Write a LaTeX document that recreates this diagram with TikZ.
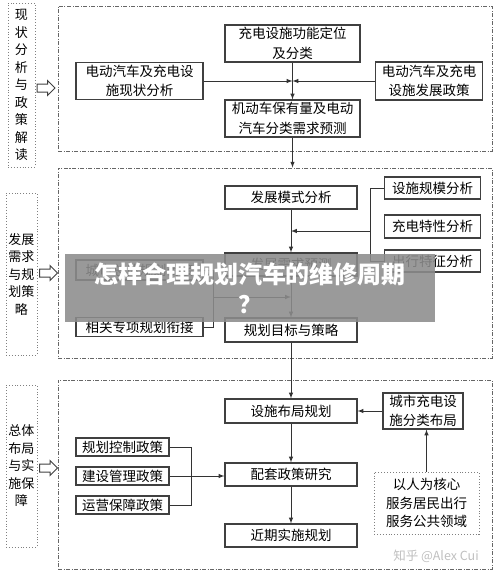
\documentclass[tikz,border=0pt]{standalone}
\usepackage{fontspec}
\setmainfont{Noto Sans CJK SC}
\usetikzlibrary{shapes.arrows}

\begin{document}
\begin{tikzpicture}[x=1pt,y=-1pt,
        box/.style={draw=black!75,line width=1.1pt,fill=white,align=center,inner sep=0pt,font=\fontsize{13.5}{19.5}\selectfont},
        sect/.style={draw=black!60,line width=0.8pt,dash pattern=on 4pt off 1.5pt on 1pt off 1.5pt,minimum width=434pt,inner sep=0pt},
        label/.style={draw=black!50,line width=0.9pt,dotted,align=center,inner sep=0pt,font=\fontsize{13}{17.5}\selectfont},
        hollow/.style={draw=black!75,line width=1pt,single arrow,single arrow head extend=3.5pt,inner xsep=0pt,inner ysep=3.5pt,minimum height=18pt},
        conn/.style={draw=black!80,line width=1pt}]
        \useasboundingbox (0,0) rectangle (500,576);

        \node[sect,minimum height=145pt] (sec1) at (275,78.5) {};
        \node[sect,minimum height=190pt] (sec2) at (275,263) {};
        \node[sect,minimum height=189pt] (sec3) at (275,474.5) {};

        \node[label,minimum width=27pt,minimum height=164pt] (lab1) at (21.5,85) {现\\状\\分\\析\\与\\政\\策\\解\\读};
        \node[label,minimum width=31pt,minimum height=162pt] (lab2) at (21.5,274) {发展\\需求\\与规\\划策\\略};
        \node[label,minimum width=31pt,minimum height=162pt] (lab3) at (21.5,466) {总体\\布局\\与实\\施保\\障};
        \node[hollow] (arr1) at (44,88) {};
        \node[hollow] (arr2) at (46.5,273) {};
        \node[hollow] (arr3) at (46.5,468) {};

        \node[box,minimum width=135pt,minimum height=37pt] (func) at (292.5,43.5) {充电设施功能定位\\及分类};
        \node[box,minimum width=127pt,minimum height=37pt] (now) at (139.5,81) {电动汽车及充电设\\施现状分析};
        \node[box,minimum width=107pt,minimum height=38pt] (policy) at (429,81) {电动汽车及充电\\设施发展政策};
        \node[box,minimum width=135pt,minimum height=37pt] (need) at (292.5,118.5) {机动车保有量及电动\\汽车分类需求预测};
        \draw[conn,-latex] (func) -- (need);
        \draw[conn,-latex] (now) -- (now -| func);
        \draw[conn,-latex] (policy) -- (policy -| func);
        \draw[conn,-latex] (need) -- (need |- sec2.north);

        \node[box,minimum width=132pt,minimum height=23pt] (mode) at (291,197.5) {发展模式分析};
        \node[box,minimum width=96pt,minimum height=22pt] (scale) at (432.5,188) {设施规模分析};
        \node[box,minimum width=96pt,minimum height=23pt] (charge) at (432.5,226.5) {充电特性分析};
        \node[box,minimum width=96pt,minimum height=22pt] (trip) at (432.5,261) {出行特征分析};
        \node[box,minimum width=132pt,minimum height=23pt] (fore) at (291,264.5) {发展需求预测};
        \node[box,minimum width=127pt,minimum height=20pt] (city) at (139.5,270) {城市总体规划衔接};
        \node[box,minimum width=127pt,minimum height=19pt] (special) at (139.5,327) {相关专项规划衔接};
        \node[box,minimum width=132pt,minimum height=24pt] (goal) at (291,330) {规划目标与策略};
        \draw[conn] (scale.west) -- ++(-13,0) |- (trip.west);
        \coordinate (rj) at (370.5,231);
        \draw[conn,-latex] (rj) -- (rj -| mode);
        \draw[conn] (city.east) -- ++(10,0) |- (special.east);
        \coordinate (lj) at (213,297);
        \draw[conn,-latex] (lj) -- (lj -| fore);
        \draw[conn,-latex] (mode) -- (fore);
        \draw[conn,-latex] (fore) -- (goal);

        \node[box,minimum width=132pt,minimum height=24pt] (layout) at (291,411) {设施布局规划};
        \node[box,minimum width=80pt,minimum height=36pt] (sort) at (423,411) {城市充电设\\施分类布局};
        \node[box,minimum width=132pt,minimum height=23pt] (match) at (291,474.5) {配套政策研究};
        \node[box,minimum width=132pt,minimum height=23pt] (near) at (291,535.5) {近期实施规划};
        \node[box,draw=black!50,line width=0.9pt,dotted,minimum width=105pt,minimum height=62pt,font=\fontsize{13.5}{18.5}\selectfont] (core) at (426.5,503) {以人为核心\\服务居民出行\\服务公共领域};
        \node[box,minimum width=93pt,minimum height=18pt] (pc1) at (122.5,447) {规划控制政策};
        \node[box,minimum width=93pt,minimum height=18pt] (pc2) at (122.5,476) {建设管理政策};
        \node[box,minimum width=93pt,minimum height=18pt] (pc3) at (122.5,505) {运营保障政策};
        \draw[conn,-latex] (goal) -- (layout);
        \draw[conn,-latex] (sort) -- (layout);
        \draw[conn,-latex] (core.north) -- (core.north |- sort.south);
        \draw[conn,-latex] (layout) -- (match);
        \draw[conn,-latex] (match) -- (near);
        \draw[conn] (pc1.east) -- ++(22,0) |- (pc3.east);
        \draw[conn,-latex] (pc2.east) -- (pc2.east -| match.west);

        \node[text=black!25,font=\fontsize{12.5}{15}\selectfont] (mark) at (436,556) {知乎 @Alex Cui};

        \node[fill=black!45,fill opacity=0.88,text opacity=1,text=white,minimum width=370pt,minimum height=68pt,align=center,font=\fontsize{24}{30}\selectfont\bfseries] (banner) at (250,288) {怎样合理规划汽车的维修周期\\？};
\end{tikzpicture}
\end{document}
